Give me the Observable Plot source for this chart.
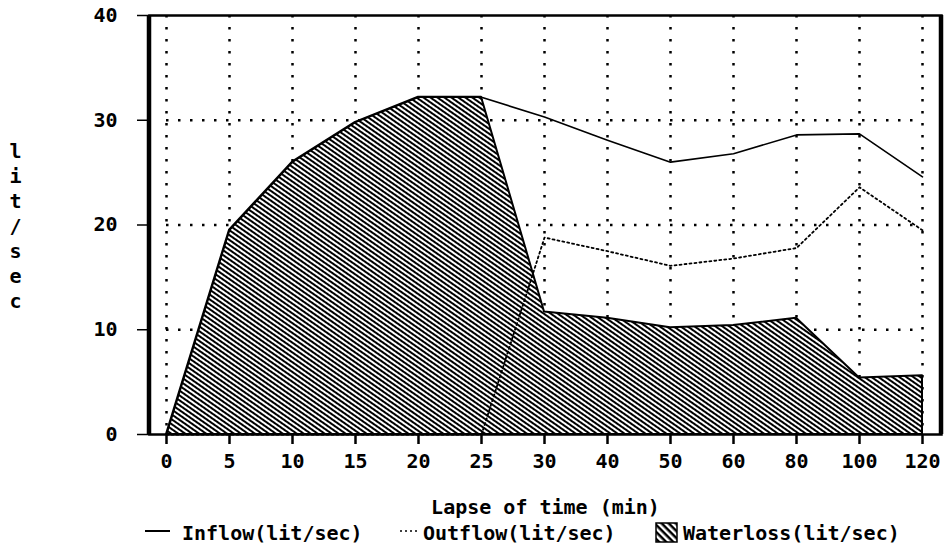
<!DOCTYPE html>
<html>
<head>
<meta charset="utf-8">
<script src="https://cdn.jsdelivr.net/npm/d3@7"></script>
<script src="https://cdn.jsdelivr.net/npm/@observablehq/plot@0.6"></script>
<style>
  body { margin: 0; background: #fff; }
  #wrap { position: relative; width: 947px; height: 557px; font-family: "DejaVu Sans Mono", monospace; font-weight: bold; font-size: 20px; color: #000; }
  #wrap > svg.chart { position: absolute; left: 0; top: 0; }
  .lg { position: absolute; line-height: 20px; white-space: nowrap; }
  .sw { position: absolute; }
</style>
</head>
<body>
<div id="wrap"></div>
<script>
// ---- data ----
const minutes   = [0, 5, 10, 15, 20, 25, 30, 40, 50, 60, 80, 100, 120];
const inflow    = [0, 19.5, 26.0, 29.8, 32.2, 32.2, 30.3, 28.1, 26.0, 26.8, 28.6, 28.7, 24.6];
const outflow   = [0, 0, 0, 0, 0, 0, 18.8, 17.5, 16.1, 16.8, 17.8, 23.6, 19.5];
const waterloss = [0, 19.5, 26.0, 29.8, 32.2, 32.2, 11.7, 11.1, 10.2, 10.4, 11.1, 5.4, 5.6];
const yTicks    = [0, 10, 20, 30, 40];
const yGrid     = [10, 20, 30];
const seriesNames = ["Inflow(lit/sec)", "Outflow(lit/sec)", "Waterloss(lit/sec)"];
const xTitle = "Lapse of time (min)";
const yTitle = "lit/sec";

const rows = minutes.map((t, i) => ({t, inflow: inflow[i], outflow: outflow[i], waterloss: waterloss[i]}));

const W = 947, H = 520, mL = 149, mR = 6, mT = 15, mB = 86;
const font = `"DejaVu Sans Mono", monospace`;

const chart = Plot.plot({
  width: W, height: H,
  marginLeft: mL, marginRight: mR, marginTop: mT, marginBottom: mB,
  style: {fontFamily: font, fontSize: "20px", fontWeight: "bold", background: "white", color: "black", overflow: "visible"},
  x: {type: "point", domain: minutes, padding: 0, insetLeft: 13, insetRight: 15},
  y: {domain: [0, 40]},
  marks: [
    Plot.gridX(minutes, {stroke: "black", strokeOpacity: 1, strokeWidth: 2.5, strokeDasharray: "2.5,9.5"}),
    Plot.ruleY(yGrid, {x1: () => minutes[0], x2: () => minutes[minutes.length - 1], stroke: "black", strokeWidth: 2.5, strokeDasharray: "2.5,9.5"}),
    Plot.areaY(rows, {x: "t", y: "waterloss", fill: "url(#hatch)", stroke: "black", strokeWidth: 2}),
    Plot.lineY(rows, {x: "t", y: "inflow", stroke: "black", strokeWidth: 1.6}),
    Plot.lineY(rows, {x: "t", y: "outflow", stroke: "black", strokeWidth: 1.8, strokeDasharray: "2,3"}),
    Plot.axisX(minutes, {tickSize: 10, tickPadding: 9, strokeWidth: 2.5, label: xTitle, labelAnchor: "center", labelOffset: 79}),
    Plot.axisY(yTicks, {tickSize: 12, tickPadding: 20, strokeWidth: 1.5, label: null}),
    Plot.frame({stroke: "black", strokeWidth: 2.5}),
    Plot.text([yTitle.split("").join("\n")], {frameAnchor: "left", dx: -134, textAnchor: "middle", lineHeight: 1.25, fontSize: 20})
  ]
});
chart.classList.add("chart");

// hatch pattern definition
const svg = d3.select(chart);
const pat = svg.insert("defs", ":first-child").append("pattern")
  .attr("id", "hatch").attr("patternUnits", "userSpaceOnUse")
  .attr("width", 8).attr("height", 4).attr("patternTransform", "rotate(35)");
pat.append("rect").attr("width", 8).attr("height", 4).attr("fill", "white");
pat.append("rect").attr("width", 8).attr("height", 2).attr("fill", "black");

// thicker left/right frame sides
for (const x of [mL, W - mR]) {
  svg.append("line").attr("x1", x).attr("x2", x).attr("y1", mT).attr("y2", H - mB)
    .attr("stroke", "black").attr("stroke-width", 4.5);
}

const wrap = document.getElementById("wrap");
wrap.appendChild(chart);

// ---- legend ----
const legendTop = 523;
const items = [
  {swLeft: 145, swW: 25, kind: "solid", textLeft: 182, name: seriesNames[0]},
  {swLeft: 400, swW: 20, kind: "dot", textLeft: 423, name: seriesNames[1]},
  {swLeft: 655, swW: 23, kind: "hatch", textLeft: 683, name: seriesNames[2]}
];
for (const it of items) {
  const s = d3.create("svg").attr("class", "sw");
  if (it.kind === "hatch") {
    s.attr("width", it.swW).attr("height", 21).style("left", it.swLeft + "px").style("top", (legendTop - 1) + "px");
    const p = s.append("defs").append("pattern").attr("id", "hatch2").attr("patternUnits", "userSpaceOnUse")
      .attr("width", 8).attr("height", 5).attr("patternTransform", "rotate(45)");
    p.append("rect").attr("width", 8).attr("height", 5).attr("fill", "white");
    p.append("rect").attr("width", 8).attr("height", 2.5).attr("fill", "black");
    s.append("rect").attr("x", 1).attr("y", 1).attr("width", it.swW - 2).attr("height", 19)
      .attr("fill", "url(#hatch2)").attr("stroke", "black").attr("stroke-width", 1.5);
  } else {
    s.attr("width", it.swW).attr("height", 4).style("left", it.swLeft + "px").style("top", (legendTop + 6) + "px");
    s.append("line").attr("x1", 0).attr("x2", it.swW).attr("y1", 2).attr("y2", 2)
      .attr("stroke", "black").attr("stroke-width", it.kind === "dot" ? 1.6 : 2)
      .attr("stroke-dasharray", it.kind === "dot" ? "2,3" : null);
  }
  wrap.appendChild(s.node());
  const t = document.createElement("div");
  t.className = "lg";
  t.style.left = it.textLeft + "px";
  t.style.top = legendTop + "px";
  t.textContent = it.name;
  wrap.appendChild(t);
}
</script>
</body>
</html>
